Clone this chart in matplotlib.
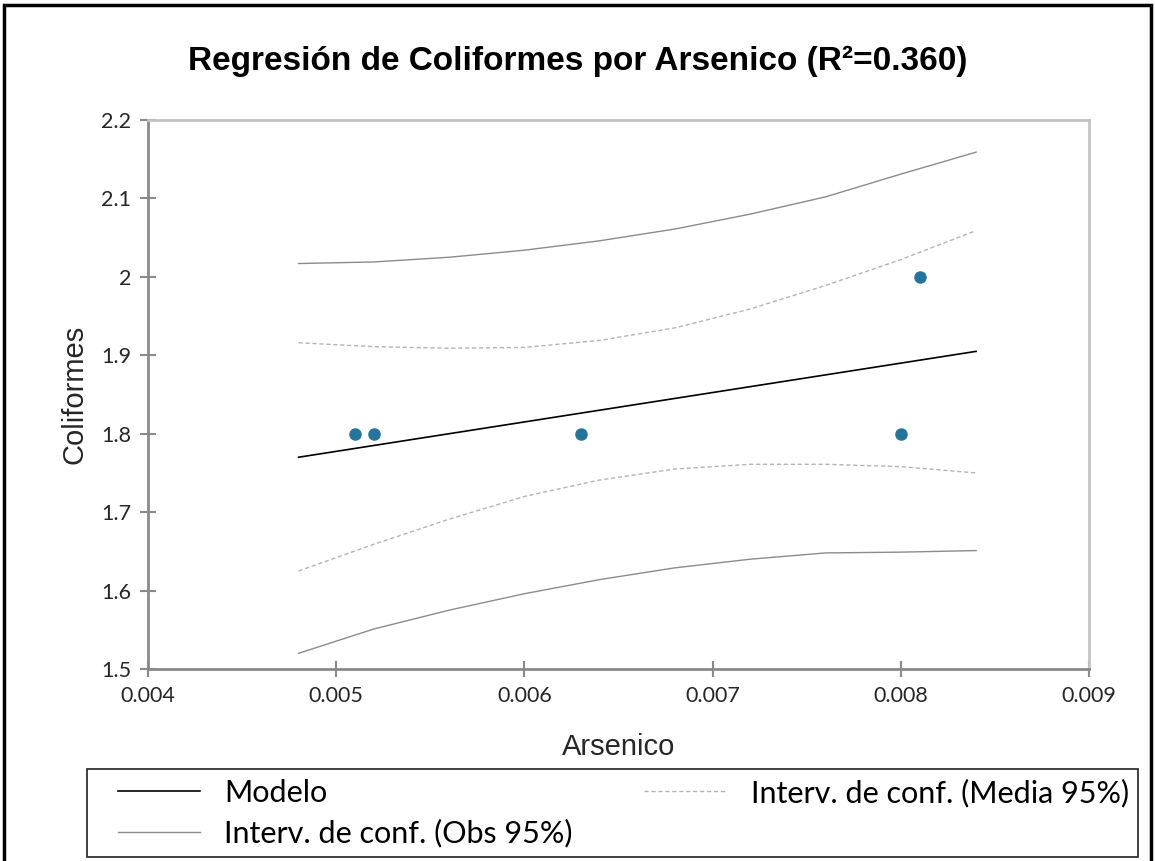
import matplotlib
matplotlib.use('Agg')
import matplotlib.pyplot as plt
from matplotlib.patches import Rectangle
from matplotlib.lines import Line2D
from matplotlib.legend_handler import HandlerLine2D

# observed data
arsenico = [0.0051, 0.0052, 0.0063, 0.0080, 0.0081]
coliformes = [1.80, 1.80, 1.80, 1.80, 2.00]

# model line and confidence bands
x_curve = [0.0048, 0.0052, 0.0056, 0.0060, 0.0064, 0.0068, 0.0072, 0.0076, 0.0080, 0.0084]
modelo = [1.770, 1.785, 1.800, 1.815, 1.830, 1.845, 1.860, 1.875, 1.890, 1.905]
media_sup = [1.916, 1.911, 1.909, 1.910, 1.919, 1.935, 1.959, 1.989, 2.022, 2.059]
media_inf = [1.625, 1.659, 1.691, 1.720, 1.741, 1.755, 1.761, 1.761, 1.758, 1.750]
obs_sup = [2.017, 2.019, 2.025, 2.034, 2.046, 2.061, 2.080, 2.102, 2.131, 2.159]
obs_inf = [1.520, 1.551, 1.575, 1.596, 1.614, 1.629, 1.640, 1.648, 1.649, 1.651]

x_ticks = [0.004, 0.005, 0.006, 0.007, 0.008, 0.009]
y_ticks = [1.5, 1.6, 1.7, 1.8, 1.9, 2.0, 2.1, 2.2]
y_labels = ['1.5', '1.6', '1.7', '1.8', '1.9', '2', '2.1', '2.2']


class ShortLine(HandlerLine2D):
    # legend sample that leaves some room on its left, like Excel does
    def create_artists(self, legend, orig_handle, xdescent, ydescent, width, height, fontsize, trans):
        y = height / 2 - ydescent
        x0 = -xdescent
        line = Line2D([x0 + 0.18 * width, x0 + 0.85 * width], [y, y])
        self.update_prop(line, orig_handle, legend)
        line.set_marker('')
        line.set_transform(trans)
        return [line]


fig = plt.figure(figsize=(11.55, 8.61), dpi=100)
ax = fig.add_axes([148/1155, 1-669/861, (1089-148)/1155, (669-120)/861])

l_mod, = ax.plot(x_curve, modelo, color='black', lw=1.2, label='Modelo')
l_med, = ax.plot(x_curve, media_sup, color='#b4b4b4', lw=1.0, ls=(0, (3, 2)),
                 label='Interv. de conf. (Media 95%)')
ax.plot(x_curve, media_inf, color='#b4b4b4', lw=1.0, ls=(0, (3, 2)))
l_obs, = ax.plot(x_curve, obs_sup, color='#8c8c8c', lw=1.0, label='Interv. de conf. (Obs 95%)')
ax.plot(x_curve, obs_inf, color='#8c8c8c', lw=1.0)
ax.plot(arsenico, coliformes, 'o', color='#24749c', markersize=8, zorder=5)

ax.set_xlim(0.004, 0.009)
ax.set_ylim(1.5, 2.2)
ax.set_xticks(x_ticks)
ax.set_xticklabels([f'{t:.3f}' for t in x_ticks])
ax.set_yticks(y_ticks)
ax.set_yticklabels(y_labels)
ax.tick_params(direction='inout', length=12, width=1.5, color='#8a8a8a',
               labelsize=15.5, labelcolor='#262626', pad=6)
for lab in ax.get_xticklabels() + ax.get_yticklabels():
    lab.set_family('Lato')

for s in ['left', 'bottom']:
    ax.spines[s].set_color('#8a8a8a')
    ax.spines[s].set_linewidth(2)
for s in ['top', 'right']:
    ax.spines[s].set_color('#c4c4c4')
    ax.spines[s].set_linewidth(2)

ax.set_xlabel('Arsenico', fontsize=21, family='Liberation Sans', color='#262626', labelpad=20)
ax.set_ylabel('Coliformes', fontsize=21, family='Liberation Sans', color='#262626', labelpad=9)

fig.text(0.5, 1-61/861, 'Regresión de Coliformes por Arsenico (R²=0.360)',
         ha='center', va='center', fontsize=24, fontweight='bold', family='Liberation Sans')

leg = fig.legend(handles=[l_mod, l_obs, l_med], ncol=2, mode='expand',
                 bbox_to_anchor=(87/1155, 1-857/861, (1138-87)/1155, (857-768)/861),
                 loc='lower left', frameon=True, fancybox=False, borderaxespad=0,
                 handlelength=4.0, handletextpad=0.2, borderpad=0.3, labelspacing=0.4,
                 handler_map={Line2D: ShortLine()},
                 prop={'family': 'Lato', 'size': 22})
leg.get_frame().set_edgecolor('black')
leg.get_frame().set_linewidth(1.3)

# outer chart border
fig.patches.append(Rectangle((4/1155, -0.02), 1-8/1155, 1.02-5/861, transform=fig.transFigure,
                             fill=False, edgecolor='black', lw=2.5))

fig.savefig('out.png', dpi=100)
